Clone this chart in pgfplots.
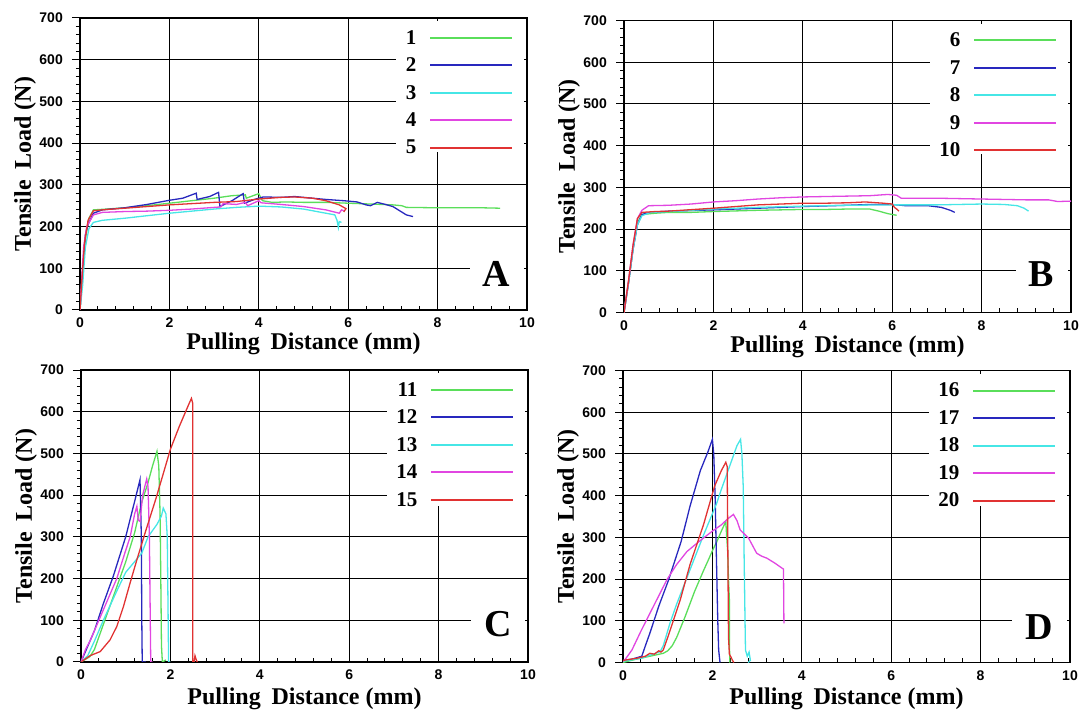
\documentclass[border=0pt]{standalone}
\usepackage{fontspec}
\setmainfont{Liberation Serif}
\setsansfont{Liberation Sans}
\usepackage{pgfplots}
\pgfplotsset{compat=1.18}
\definecolor{cgreen}{RGB}{90,222,90}
\definecolor{cblue}{RGB}{40,40,190}
\definecolor{ccyan}{RGB}{70,230,230}
\definecolor{cmag}{RGB}{225,70,225}
\definecolor{cred}{RGB}{225,50,50}
\newcommand\tickfont{\sffamily\bfseries\fontsize{14}{15}\selectfont}
\newcommand\labfont{\rmfamily\bfseries\fontsize{24}{26}\selectfont}
\newcommand\legfont{\rmfamily\bfseries\fontsize{21}{22}\selectfont}
\newcommand\letfont{\rmfamily\bfseries\fontsize{38}{40}\selectfont}

\pgfplotsset{
  panel/.style={
    scale only axis, width=447pt, height=292pt,
    xmin=0, xmax=10, ymin=0, ymax=700,
    xtick={0,2,...,10}, ytick={0,100,...,700},
    minor x tick num=4, minor y tick num=4,
    xtick pos=left, ytick pos=left,
    xtick align=inside, ytick align=outside,
    major tick length=8pt, minor tick length=4pt,
    every tick/.style={black, line width=1pt},
    grid=major, major grid style={black, line width=1.1pt},
    axis line style={black, line width=1.6pt},
    ticklabel style={font=\tickfont, /pgf/number format/assume math mode=true},
    xticklabel style={anchor=north, inner sep=0pt, yshift=-8pt},
    yticklabel style={anchor=east, inner sep=0pt, xshift=-9pt},
    xlabel={Pulling\hspace{0.45em}Distance (mm)},
    ylabel={Tensile\hspace{0.45em}Load (N)},
    label style={font=\labfont},
    xlabel style={at={(axis description cs:0.5,-0.136)}, anchor=base},
    ylabel style={at={(axis description cs:-0.11,0.5)}, anchor=base},
    legend style={draw=none, fill=none, at={(axis cs:9.70,671)}, anchor=north east,
      inner sep=0pt, row sep=12.1pt, column sep=13pt, font=\legfont,
      nodes={inner sep=0pt}},
    legend cell align=right, legend plot pos=right,
    legend image code/.code={\draw[##1, line width=2pt] (0pt,0pt) -- (82pt,0pt);},
    every axis plot/.append style={line width=1.3pt},
  }
}

\begin{document}
\begin{tikzpicture}

% ---------- A ----------
\begin{axis}[panel, at={(80pt,401pt)}, anchor=south west]
\fill[white] (axis cs:7.08,379) rectangle (axis cs:9.93,692);
\fill[white] (axis cs:8.72,20) rectangle (axis cs:9.93,180);
\addplot[cgreen] coordinates {(0,0)(0.05,80)(0.12,170)(0.2,220)(0.3,240)(0.6,242)(1.0,245)(1.5,250)(2.0,256)(2.5,262)(3.0,268)(3.4,274)(3.7,276)(3.72,268)(4.0,279)(4.08,262)(4.3,258)(4.6,259)(5.0,258)(5.5,258)(6.0,256)(6.5,254)(7.0,252)(7.2,250)(7.3,246)(8.0,245)(8.5,245)(9.0,245)(9.4,244)};
\addlegendentry{1}
\addplot[cblue] coordinates {(0,0)(0.05,80)(0.12,180)(0.18,205)(0.3,232)(0.5,240)(1.0,245)(1.5,253)(2.0,263)(2.3,268)(2.6,280)(2.62,265)(2.9,272)(3.1,282)(3.13,248)(3.4,262)(3.65,279)(3.68,256)(3.9,265)(4.1,271)(4.5,270)(4.8,272)(5.2,268)(5.5,265)(5.9,262)(6.2,259)(6.4,252)(6.5,250)(6.65,258)(6.8,254)(7.0,248)(7.15,238)(7.3,228)(7.45,224)};
\addlegendentry{2}
\addplot[ccyan] coordinates {(0,0)(0.06,60)(0.12,150)(0.2,195)(0.3,210)(0.5,215)(1.0,220)(1.5,226)(2.0,232)(2.5,237)(3.0,242)(3.5,246)(4.0,249)(4.5,247)(5.0,242)(5.4,234)(5.7,228)(5.75,215)(5.78,198)(5.8,212)(5.85,210)};
\addlegendentry{3}
\addplot[cmag] coordinates {(0,0)(0.03,60)(0.08,150)(0.15,200)(0.3,228)(0.5,234)(1.0,236)(1.5,237)(2.0,239)(2.5,242)(3.0,246)(3.15,247)(3.2,255)(3.5,253)(3.7,258)(3.75,250)(4.0,262)(4.05,257)(4.5,253)(5.0,248)(5.5,240)(5.8,232)(5.85,240)(5.9,238)};
\addlegendentry{4}
\addplot[cred] coordinates {(0,0)(0.04,70)(0.1,160)(0.18,215)(0.3,238)(0.6,241)(1.0,244)(1.5,248)(2.0,252)(2.5,255)(3.0,258)(3.5,260)(4.0,266)(4.5,270)(4.8,271)(5.2,268)(5.5,262)(5.8,252)(5.95,243)(5.9,235)};
\addlegendentry{5}
\node[font=\letfont] at (axis cs:9.32,87) {A};
\end{axis}

% ---------- B ----------
\begin{axis}[panel, at={(624pt,398.5pt)}, anchor=south west]
\fill[white] (axis cs:6.84,379) rectangle (axis cs:9.93,692);
\fill[white] (axis cs:8.77,20) rectangle (axis cs:9.93,180);
\addplot[cgreen] coordinates {(0,0)(0.1,70)(0.2,150)(0.3,215)(0.4,235)(0.7,238)(1.0,240)(1.5,240)(2.0,242)(3.0,245)(3.5,246)(4.0,247)(4.5,247)(5.0,248)(5.5,248)(5.7,243)(5.9,237)(6.1,233)};
\addlegendentry{6}
\addplot[cblue] coordinates {(0,0)(0.1,70)(0.2,150)(0.3,210)(0.4,235)(0.6,240)(1.0,243)(2.0,246)(3.0,250)(4.0,254)(5.0,257)(5.5,259)(6.0,259)(6.3,256)(6.8,256)(7.1,252)(7.3,245)(7.4,240)};
\addlegendentry{7}
\addplot[ccyan] coordinates {(0,0)(0.1,70)(0.2,150)(0.3,210)(0.4,232)(0.6,240)(1.0,242)(2.0,248)(3.0,252)(4.0,255)(5.0,257)(6.0,258)(7.0,258)(8.0,260)(8.5,259)(8.8,256)(8.95,250)(9.05,243)};
\addlegendentry{8}
\addplot[cmag] coordinates {(0,0)(0.1,75)(0.2,160)(0.3,225)(0.4,245)(0.55,256)(1.0,257)(1.5,260)(2.0,265)(2.5,268)(3.0,272)(3.5,275)(4.0,277)(4.5,278)(5.0,279)(5.5,280)(5.9,283)(6.1,281)(6.2,274)(7.0,274)(8.0,272)(8.5,271)(9.0,270)(9.5,270)(9.7,266)(10.0,267)};
\addlegendentry{9}
\addplot[cred] coordinates {(0,0)(0.1,75)(0.2,160)(0.3,225)(0.4,240)(0.7,242)(1.0,243)(2.0,250)(2.5,254)(3.0,258)(3.5,260)(4.0,262)(4.5,262)(5.0,263)(5.4,265)(5.8,262)(6.0,260)(6.05,252)(6.1,248)(6.15,243)};
\addlegendentry{10}
\node[font=\letfont] at (axis cs:9.33,92) {B};
\end{axis}

% ---------- C ----------
\begin{axis}[panel, at={(81pt,49pt)}, anchor=south west,
  xlabel style={at={(axis description cs:0.5,-0.145)}}]
\fill[white] (axis cs:6.84,375) rectangle (axis cs:9.93,692);
\fill[white] (axis cs:8.72,20) rectangle (axis cs:9.93,180);
\addplot[cgreen] coordinates {(0,0)(0.2,13)(0.3,30)(0.5,90)(0.8,180)(1.0,240)(1.2,310)(1.35,380)(1.5,430)(1.6,470)(1.7,505)(1.74,470)(1.77,350)(1.79,150)(1.8,40)(1.82,0)(1.9,5)};
\addlegendentry{11}
\addplot[cblue] coordinates {(0,0)(0.1,25)(0.3,75)(0.5,140)(0.72,205)(1.0,300)(1.2,385)(1.32,437)(1.35,300)(1.36,100)(1.37,0)(1.45,0)};
\addlegendentry{12}
\addplot[ccyan] coordinates {(0,0)(0.15,15)(0.3,50)(0.5,100)(0.8,170)(1.0,215)(1.36,261)(1.5,300)(1.7,330)(1.8,350)(1.84,369)(1.9,355)(1.93,300)(1.95,100)(1.96,0)(2.0,0)};
\addlegendentry{13}
\addplot[cmag] coordinates {(0,0)(0.1,30)(0.2,50)(0.4,100)(0.6,150)(0.8,200)(0.98,261)(1.1,300)(1.2,355)(1.25,373)(1.28,340)(1.32,337)(1.38,400)(1.47,439)(1.5,420)(1.53,300)(1.55,100)(1.56,0)(1.6,0)};
\addlegendentry{14}
\addplot[cred] coordinates {(0,0)(0.2,15)(0.43,25)(0.65,53)(0.8,85)(0.95,133)(1.1,190)(1.25,245)(1.45,315)(1.68,393)(1.85,455)(2.0,510)(2.2,565)(2.4,615)(2.47,632)(2.5,620)(2.5,0)(2.53,0)(2.55,15)(2.58,5)(2.6,0)};
\addlegendentry{15}
\node[font=\letfont] at (axis cs:9.33,91) {C};
\end{axis}

% ---------- D ----------
\begin{axis}[panel, at={(623pt,48.5pt)}, anchor=south west,
  xlabel style={at={(axis description cs:0.5,-0.145)}}]
\fill[white] (axis cs:6.84,375) rectangle (axis cs:9.93,692);
\fill[white] (axis cs:8.70,20) rectangle (axis cs:9.93,180);
\addplot[cgreen] coordinates {(0,0)(0.3,8)(0.6,15)(0.9,22)(1.0,28)(1.1,40)(1.2,60)(1.39,110)(1.6,170)(1.8,220)(1.91,246)(2.0,268)(2.1,290)(2.2,315)(2.3,338)(2.32,300)(2.34,270)(2.36,200)(2.38,150)(2.38,50)(2.39,0)};
\addlegendentry{16}
\addplot[cblue] coordinates {(0,5)(0.2,8)(0.42,15)(0.5,40)(0.6,70)(0.8,135)(1.02,198)(1.3,290)(1.5,375)(1.73,460)(1.9,505)(2.0,535)(2.03,500)(2.06,400)(2.09,250)(2.12,100)(2.14,30)(2.17,0)};
\addlegendentry{17}
\addplot[ccyan] coordinates {(0,3)(0.4,10)(0.83,26)(0.9,40)(1.05,94)(1.2,140)(1.4,195)(1.6,250)(1.8,305)(2.09,380)(2.2,415)(2.4,475)(2.55,520)(2.63,535)(2.66,500)(2.69,420)(2.71,250)(2.73,100)(2.74,30)(2.78,15)(2.82,25)(2.85,5)(2.8,0)};
\addlegendentry{18}
\addplot[cmag] coordinates {(0,3)(0.04,6)(0.2,30)(0.4,75)(0.64,126)(0.98,198)(1.2,235)(1.43,266)(1.7,290)(2.0,315)(2.2,330)(2.35,345)(2.47,355)(2.55,340)(2.62,318)(2.81,298)(2.9,280)(2.99,262)(3.1,255)(3.22,250)(3.4,238)(3.56,226)(3.59,224)(3.6,94)};
\addlegendentry{19}
\addplot[cred] coordinates {(0,5)(0.3,10)(0.5,15)(0.6,22)(0.7,20)(0.8,28)(0.85,25)(0.9,30)(1.0,60)(1.28,150)(1.5,235)(1.8,330)(2.05,423)(2.2,460)(2.3,480)(2.33,470)(2.34,350)(2.35,200)(2.36,60)(2.38,20)(2.42,12)(2.45,5)(2.48,0)};
\addlegendentry{20}
\node[font=\letfont] at (axis cs:9.3,86) {D};
\end{axis}

\pgfresetboundingbox
\path[use as bounding box] (0,0) rectangle (1083pt,711pt);
\end{tikzpicture}
\end{document}
